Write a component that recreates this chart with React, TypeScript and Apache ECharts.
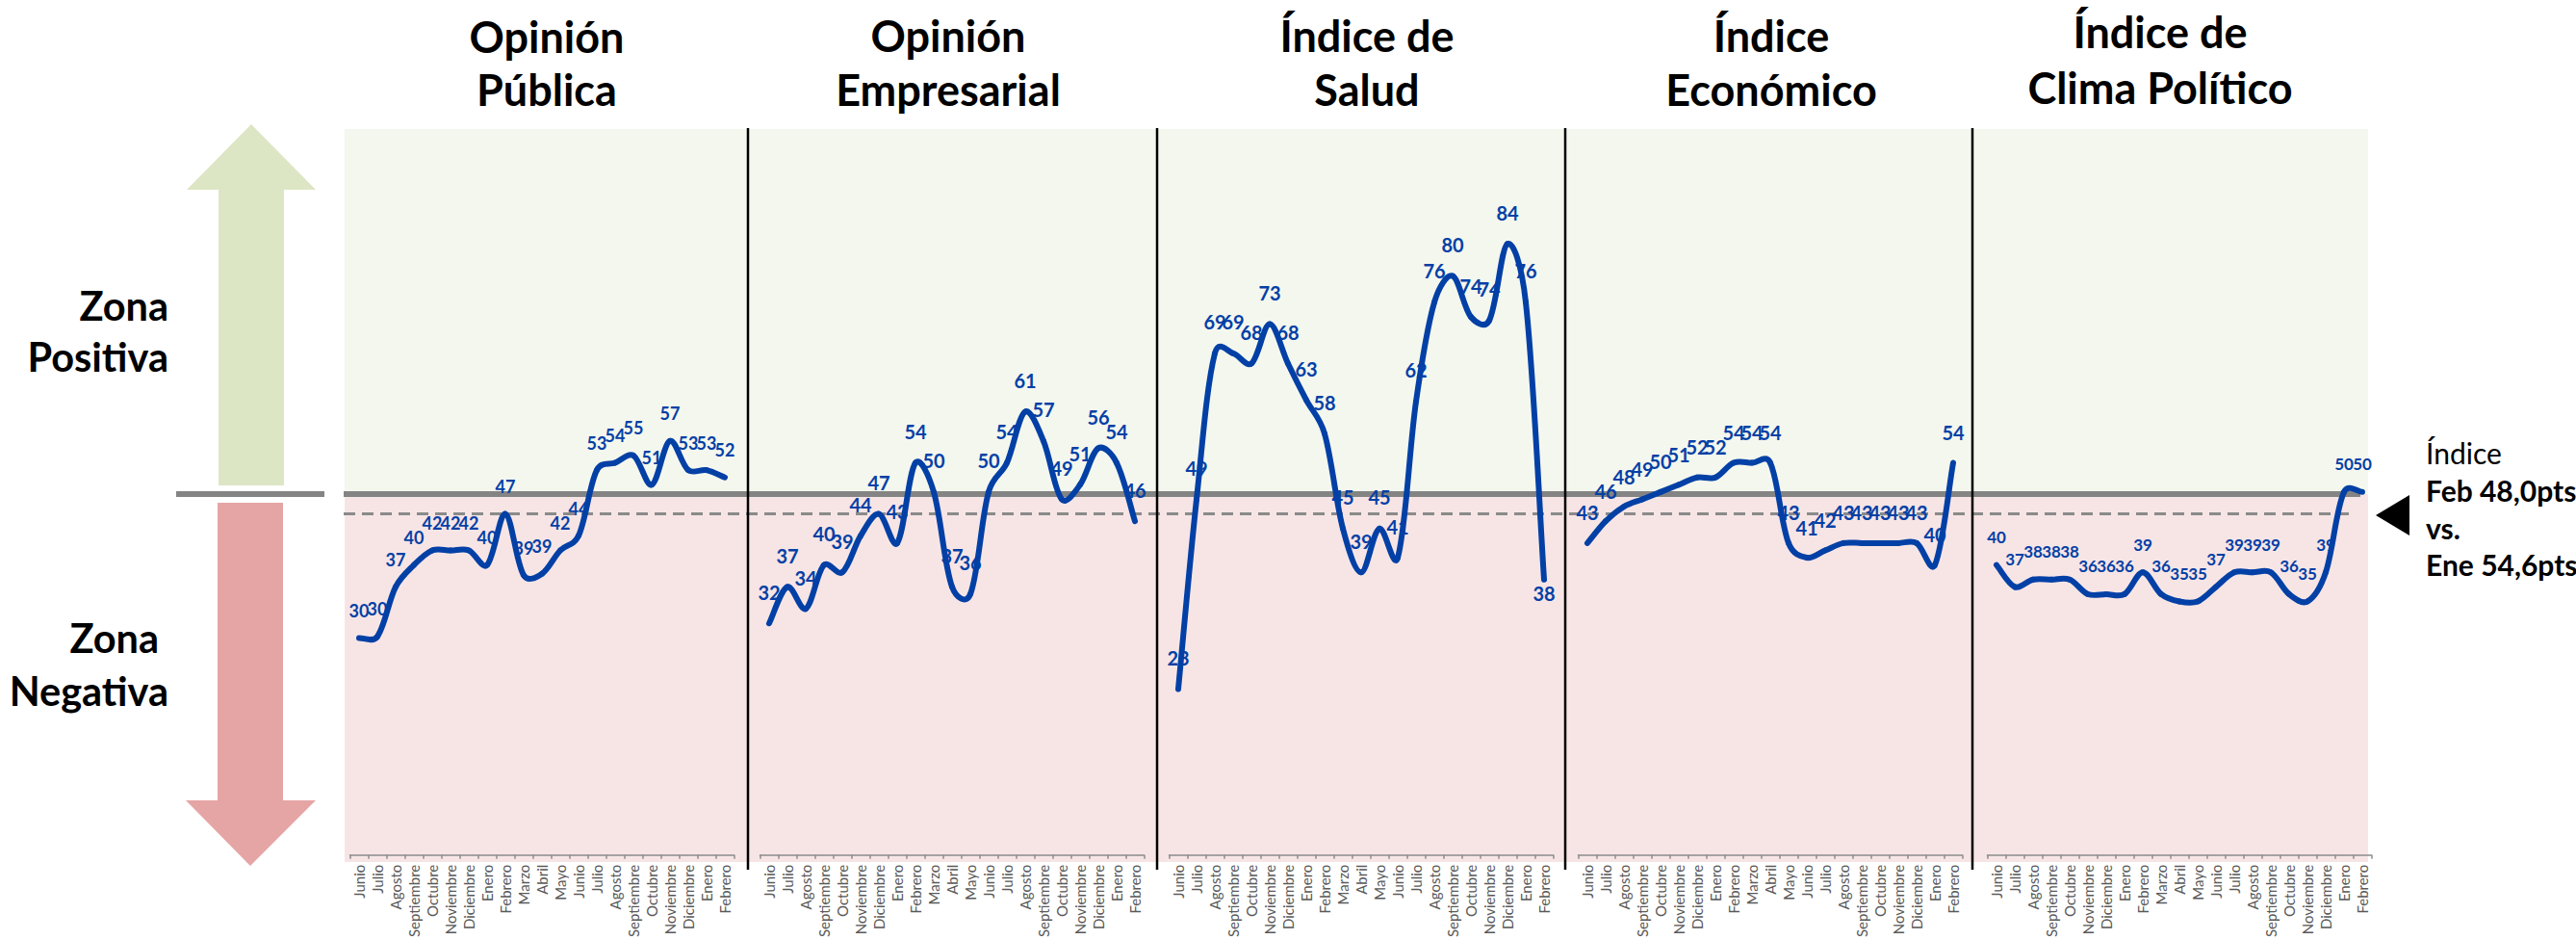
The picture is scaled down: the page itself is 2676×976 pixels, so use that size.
import React, { useEffect, useRef } from "react";
import * as echarts from "echarts";

const months = ["Junio","Julio","Agosto","Septiembre","Octubre","Noviembre","Diciembre","Enero","Febrero","Marzo","Abril","Mayo","Junio","Julio","Agosto","Septiembre","Octubre","Noviembre","Diciembre","Enero","Febrero"];

const opinionPublica = [30,30.2,37,40,42,42,42,40,47,38.6,38.8,42,44,53,54,55,51,57,53,53,52];
const opinionEmpresarial = [32,37,34,40,39,44,47,43,54,50,37,36,50,54,61,57,49,51,56,54,46];
const indiceSalud = [23,49,69,69,67.6,73,67.6,62.6,58,45,39,45,41,62.4,76,79.6,74,73.5,84,76,38];
const indiceEconomico = [43,46,48,49,50,51,52,52,54,54,54,43,41,42,43,43,43,43,43,40,54];
const indiceClima = [40,37,38,38,38,36,36,36,39,36,35,35,37,39,39,39,36,35,39,50,50];

const panelValues = [opinionPublica, opinionEmpresarial, indiceSalud, indiceEconomico, indiceClima];
const panelTitles = [
  ["Opinión", "Pública"],
  ["Opinión", "Empresarial"],
  ["Índice de", "Salud"],
  ["Índice", "Económico"],
  ["Índice de", "Clima Político"],
];

const FONT = "Lato";
const BLUE = "#0340A6";
const panelLeft = [363.5, 789.5, 1214.5, 1639.5, 2064.5];
const titleCx = [568, 985, 1420, 1840, 2244];
const titleY = [[38, 93], [37, 93], [37, 93], [37, 93], [33, 91]];
const labelFont = [18, 20, 20, 20, 17];
const labelDist = [19, 22, 22, 21, 20];
const dividers = [777, 1202, 1626, 2049];

function txt(text: string, x: number, y: number, size: number, bold: boolean, align = "center") {
  return {
    type: "text", z: 20,
    style: { text, x, y, fontFamily: FONT, fontSize: size, fontWeight: bold ? "bold" : "normal", fill: "#000", textAlign: align, textVerticalAlign: "middle" },
  };
}
function line(x1: number, y1: number, x2: number, y2: number, stroke: string, lineWidth: number, z: number, lineDash?: number[]) {
  return { type: "line", z, shape: { x1, y1, x2, y2 }, style: { stroke, lineWidth, lineDash } };
}

const dist = (p: number[], q: number[]) => Math.hypot(q[0] - p[0], q[1] - p[1]);
const share = (near: number, far: number) => (near + far > 0 ? 0.25 + (0.5 * near) / (near + far) : 0.5);

// Excel-style smoothed line through the series' own points, placed by the axes (api.coord).
function curveItem(values: number[]) {
  return (params: any, api: any) => {
    const k = params.dataIndex;
    if (k >= values.length - 1) return null;
    const at = (j: number) => {
      const n = Math.min(Math.max(j, 0), values.length - 1);
      return api.coord([n, values[n]]);
    };
    const a = at(k - 1), b = at(k), c = at(k + 1), e = at(k + 2);
    const s1 = share(dist(b, c), dist(a, b)) / 3;
    const s2 = share(dist(b, c), dist(c, e)) / 3;
    return {
      type: "bezierCurve",
      shape: {
        x1: b[0], y1: b[1], x2: c[0], y2: c[1],
        cpx1: b[0] + (c[0] - a[0]) * s1, cpy1: b[1] + (c[1] - a[1]) * s1,
        cpx2: c[0] - (e[0] - b[0]) * s2, cpy2: c[1] - (e[1] - b[1]) * s2,
      },
      style: { fill: null, stroke: BLUE, lineWidth: 6, lineCap: "round" },
    };
  };
}

function buildOption() {
  const graphic: any[] = [
    { type: "rect", z: 0, shape: { x: 358, y: 134, width: 2102, height: 379 }, style: { fill: "#F4F7EE" } },
    { type: "rect", z: 0, shape: { x: 358, y: 513, width: 2102, height: 382 }, style: { fill: "#F7E5E5" } },
    line(357, 513, 2452, 513, "#848484", 6, 1),
    line(183, 513, 337, 513, "#848484", 6, 1),
    line(357, 533.5, 2440, 533.5, "#8A8A8A", 3, 1, [12, 7]),
    { type: "polygon", z: 1, shape: { points: [[261, 129], [328, 197], [295, 197], [295, 504], [227, 504], [227, 197], [194, 197]] }, style: { fill: "#DCE6C4" } },
    { type: "polygon", z: 1, shape: { points: [[226, 522], [294, 522], [294, 831], [328, 831], [260, 899], [193, 831], [226, 831]] }, style: { fill: "#E6A5A5" } },
    { type: "polygon", z: 1, shape: { points: [[2468, 535], [2503, 514], [2503, 556]] }, style: { fill: "#000" } },
    txt("Zona", 175, 317, 41.5, true, "right"),
    txt("Positiva", 175, 370, 41.5, true, "right"),
    txt("Zona", 165, 662, 41.5, true, "right"),
    txt("Negativa", 175, 717, 41.5, true, "right"),
    txt("Índice", 2520, 470, 30, false, "left"),
    txt("Feb 48,0pts", 2520, 509, 30, true, "left"),
    txt("vs.", 2520, 548, 30, true, "left"),
    txt("Ene 54,6pts", 2520, 586, 30, true, "left"),
  ];
  dividers.forEach((x) => graphic.push(line(x, 133, x, 903, "#000", 2.5, 10)));
  panelTitles.forEach((lines, i) => {
    lines.forEach((t, j) => graphic.push(txt(t, titleCx[i], titleY[i][j], 45, true)));
  });

  const grid: any[] = [], xAxis: any[] = [], yAxis: any[] = [], series: any[] = [];
  panelValues.forEach((values, i) => {
    grid.push({ left: panelLeft[i], width: 399, top: 132, height: 760 });
    xAxis.push({
      type: "category", gridIndex: i, data: months, offset: -2,
      axisLine: { lineStyle: { color: "#8C8C8C", width: 1.5 } },
      axisTick: { show: true, length: 4, alignWithLabel: false, lineStyle: { color: "#8C8C8C", width: 1.5 } },
      axisLabel: { interval: 0, rotate: 90, fontSize: 15, fontFamily: FONT, color: "#595959", margin: 10 },
    });
    yAxis.push({ type: "value", gridIndex: i, min: 0, max: 100, show: false, splitLine: { show: false } });
    series.push({
      type: "line", xAxisIndex: i, yAxisIndex: i, z: 3, symbol: "circle", symbolSize: 1, showAllSymbol: true, silent: true,
      itemStyle: { color: "transparent" }, lineStyle: { width: 0, color: "transparent" },
      data: values.map((v, k) => (i === 2 && k === values.length - 1 ? { value: v, label: { position: "bottom", distance: 4 } } : v)),
      label: {
        show: true, position: "top", distance: labelDist[i], fontFamily: FONT, fontWeight: "bold", fontSize: labelFont[i], color: BLUE,
        formatter: (p: any) => String(Math.round(p.value)),
      },
    });
    series.push({
      type: "custom", xAxisIndex: i, yAxisIndex: i, z: 4, silent: true, clip: false,
      data: values.map((v, k) => [k, v]), encode: { x: 0, y: 1 }, renderItem: curveItem(values),
    });
  });
  return { animation: false, backgroundColor: "#fff", tooltip: { show: false }, graphic: { elements: graphic }, grid, xAxis, yAxis, series };
}

export default function App() {
  const ref = useRef<HTMLDivElement>(null);
  useEffect(() => {
    document.body.style.margin = "0";
    const chart = echarts.init(ref.current!, undefined, { renderer: "svg" });
    chart.setOption(buildOption() as any);
    return () => chart.dispose();
  }, []);
  return <div ref={ref} style={{ width: 2676, height: 976 }} />;
}
